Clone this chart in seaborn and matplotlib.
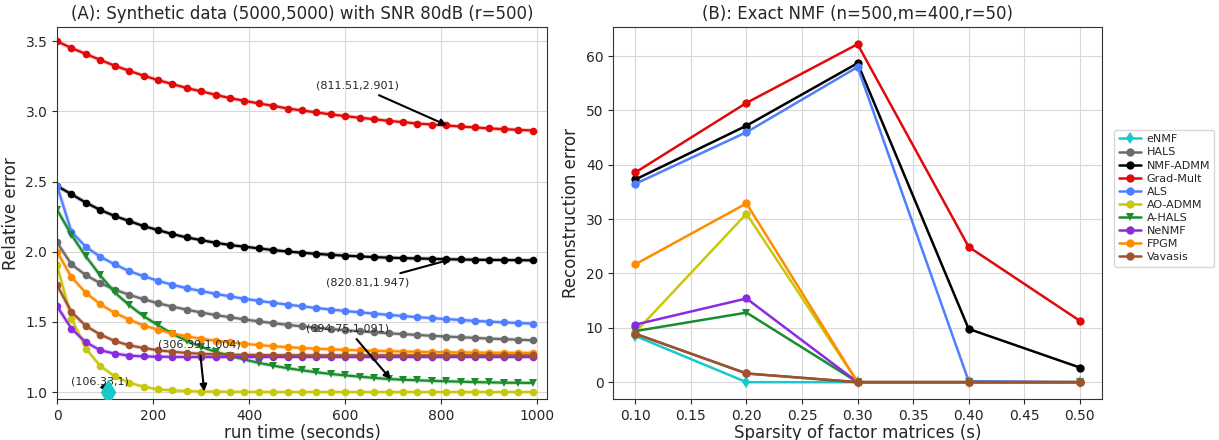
import numpy as np
import pandas as pd
import matplotlib
matplotlib.use("Agg")
import matplotlib.pyplot as plt
import seaborn as sns

# ---- panel A data: relative error vs run time ----
run_time = [0, 30, 60, 90, 120, 150, 180, 210, 240, 270, 300, 330, 360, 390, 420, 450, 480,
            510, 540, 570, 600, 630, 660, 690, 720, 750, 780, 810, 840, 870, 900, 930, 960, 990]

err_hals = [2.067, 1.910, 1.833, 1.776, 1.731, 1.693, 1.662, 1.633, 1.609, 1.587, 1.567, 1.549,
            1.533, 1.518, 1.504, 1.491, 1.479, 1.468, 1.458, 1.449, 1.441, 1.433, 1.426, 1.419,
            1.413, 1.407, 1.401, 1.396, 1.391, 1.386, 1.381, 1.377, 1.373, 1.369]
err_admm = [2.469, 2.410, 2.350, 2.298, 2.255, 2.219, 2.183, 2.155, 2.126, 2.102, 2.083, 2.064,
            2.048, 2.036, 2.024, 2.012, 2.002, 1.993, 1.985, 1.978, 1.972, 1.967, 1.962, 1.958,
            1.955, 1.952, 1.950, 1.947, 1.945, 1.943, 1.942, 1.941, 1.940, 1.939]
err_gradmult = [3.500, 3.452, 3.410, 3.367, 3.326, 3.290, 3.255, 3.224, 3.195, 3.167, 3.143, 3.119,
                3.095, 3.076, 3.057, 3.040, 3.021, 3.007, 2.993, 2.979, 2.967, 2.955, 2.945, 2.933,
                2.924, 2.914, 2.907, 2.900, 2.893, 2.886, 2.879, 2.874, 2.869, 2.864]
err_als = [2.470, 2.142, 2.035, 1.964, 1.910, 1.862, 1.826, 1.793, 1.765, 1.740, 1.720, 1.700,
           1.682, 1.665, 1.650, 1.636, 1.623, 1.611, 1.599, 1.588, 1.578, 1.568, 1.559, 1.550,
           1.542, 1.534, 1.527, 1.520, 1.514, 1.508, 1.502, 1.497, 1.492, 1.488]
err_aoadmm = [1.905, 1.524, 1.310, 1.186, 1.112, 1.067, 1.038, 1.019, 1.012, 1.007, 1.004, 1.003,
              1.002, 1.001, 1.001, 1.000, 1.000, 1.000, 1.000, 1.000, 1.000, 1.000, 1.000, 1.000,
              1.000, 1.000, 1.000, 1.000, 1.000, 1.000, 1.000, 1.000, 1.000, 1.000]
err_ahals = [2.300, 2.120, 1.967, 1.831, 1.710, 1.620, 1.541, 1.477, 1.415, 1.365, 1.322, 1.287,
             1.257, 1.232, 1.208, 1.188, 1.170, 1.155, 1.141, 1.129, 1.119, 1.110, 1.101, 1.093,
             1.088, 1.084, 1.080, 1.077, 1.074, 1.071, 1.069, 1.067, 1.066, 1.065]
err_nenmf = [1.612, 1.452, 1.355, 1.298, 1.274, 1.260, 1.254, 1.252, 1.251, 1.250, 1.250, 1.250,
             1.250, 1.250, 1.250, 1.250, 1.250, 1.250, 1.250, 1.250, 1.250, 1.250, 1.250, 1.250,
             1.250, 1.250, 1.250, 1.250, 1.250, 1.250, 1.250, 1.250, 1.250, 1.250]
err_fpgm = [2.000, 1.819, 1.707, 1.626, 1.564, 1.517, 1.474, 1.445, 1.418, 1.397, 1.380, 1.366,
            1.354, 1.344, 1.335, 1.327, 1.320, 1.314, 1.309, 1.305, 1.301, 1.297, 1.294, 1.291,
            1.289, 1.287, 1.285, 1.284, 1.283, 1.282, 1.281, 1.280, 1.280, 1.279]
err_vavasis = [1.762, 1.571, 1.471, 1.410, 1.364, 1.333, 1.314, 1.298, 1.287, 1.279, 1.273, 1.269,
               1.267, 1.265, 1.264, 1.263, 1.263, 1.262, 1.262, 1.262, 1.262, 1.262, 1.262, 1.262,
               1.262, 1.262, 1.262, 1.262, 1.262, 1.262, 1.262, 1.262, 1.262, 1.262]

enmf_time = [106.33]
enmf_err = [1.0]

# annotated points in panel A
annot_x = [811.51, 820.81, 694.75, 306.39, 106.33]
annot_y = [2.901, 1.947, 1.091, 1.004, 1]
annot_text_x = [626, 646, 605, 296, 90]
annot_text_y = [3.183, 1.783, 1.452, 1.338, 1.076]

# ---- panel B data: reconstruction error vs sparsity ----
sparsity = [0.1, 0.2, 0.3, 0.4, 0.5]
rec_enmf = [8.5, 0, 0, 0, 0]
rec_hals = [8.9, 1.6, 0, 0, 0]
rec_admm = [37.3, 47.2, 58.7, 9.8, 2.7]
rec_gradmult = [38.6, 51.4, 62.2, 24.9, 11.3]
rec_als = [36.5, 46.0, 58.0, 0.2, 0]
rec_aoadmm = [9.2, 31.0, 0, 0, 0]
rec_ahals = [9.4, 12.8, 0, 0, 0]
rec_nenmf = [10.6, 15.4, 0, 0, 0]
rec_fpgm = [21.7, 32.9, 0, 0, 0]
rec_vavasis = [8.9, 1.6, 0, 0, 0]

methods = ["eNMF", "HALS", "NMF-ADMM", "Grad-Mult", "ALS", "AO-ADMM", "A-HALS", "NeNMF", "FPGM", "Vavasis"]
colors = {"eNMF": "#17c9c9", "HALS": "#6b6b6b", "NMF-ADMM": "#000000", "Grad-Mult": "#e00a0a",
          "ALS": "#4f7fff", "AO-ADMM": "#c8c80a", "A-HALS": "#1a8c2e", "NeNMF": "#8a2be2",
          "FPGM": "#ff8c00", "Vavasis": "#a0522d"}
markers = {m: "o" for m in methods}
markers["eNMF"] = "d"
markers["A-HALS"] = "v"

curves_a = {"HALS": err_hals, "NMF-ADMM": err_admm, "Grad-Mult": err_gradmult, "ALS": err_als,
            "AO-ADMM": err_aoadmm, "A-HALS": err_ahals, "NeNMF": err_nenmf, "FPGM": err_fpgm,
            "Vavasis": err_vavasis}
curves_b = {"eNMF": rec_enmf, "HALS": rec_hals, "NMF-ADMM": rec_admm, "Grad-Mult": rec_gradmult,
            "ALS": rec_als, "AO-ADMM": rec_aoadmm, "A-HALS": rec_ahals, "NeNMF": rec_nenmf,
            "FPGM": rec_fpgm, "Vavasis": rec_vavasis}

df_a = pd.concat([pd.DataFrame({"time": run_time, "err": v, "method": k}) for k, v in curves_a.items()])
df_b = pd.concat([pd.DataFrame({"s": sparsity, "err": v, "method": k}) for k, v in curves_b.items()])

sns.set_style("ticks", {"axes.grid": True, "grid.color": "#d8d8d8", "axes.edgecolor": "#333333"})
plt.rcParams["font.family"] = ["DejaVu Sans"]

fig = plt.figure(figsize=(12.19, 4.40), dpi=100)
ax1 = fig.add_axes([0.0468, 0.093, 0.402, 0.845])
ax2 = fig.add_axes([0.503, 0.093, 0.401, 0.845])

order_a = [m for m in methods if m != "eNMF"]

# panel A: faint wide halo, then the line with markers
sns.lineplot(data=df_a, x="time", y="err", hue="method", hue_order=order_a,
             palette=colors, lw=3.0, alpha=0.25, legend=False, ax=ax1)
sns.lineplot(data=df_a, x="time", y="err", hue="method", style="method", hue_order=order_a,
             style_order=order_a, palette=colors, markers=markers, dashes=False, lw=1.6,
             markersize=5.5, markeredgewidth=0, legend=False, ax=ax1)
ax1.plot(enmf_time, enmf_err, marker="d", markersize=12, color=colors["eNMF"], ls="none",
         zorder=5)

for x, y, tx, ty in zip(annot_x, annot_y, annot_text_x, annot_text_y):
    ax1.annotate(f"({x},{y})", xy=(x, y), xytext=(tx, ty), ha="center", va="center", fontsize=8,
                 arrowprops=dict(arrowstyle="-|>", color="black", lw=1.5, mutation_scale=10,
                                 shrinkA=2, shrinkB=0))

ax1.set_xlim(0, 1020)
ax1.set_ylim(0.95, 3.6)
ax1.set_xticks([0, 200, 400, 600, 800, 1000])
ax1.set_yticks([1.0, 1.5, 2.0, 2.5, 3.0, 3.5])
ax1.set_title("(A): Synthetic data (5000,5000) with SNR 80dB (r=500)", fontsize=12)
ax1.set_xlabel("run time (seconds)", fontsize=12, labelpad=1)
ax1.set_ylabel("Relative error", fontsize=12)

# panel B
sns.lineplot(data=df_b, x="s", y="err", hue="method", style="method", hue_order=methods,
             style_order=methods, palette=colors, markers=markers, dashes=False, lw=1.8,
             markersize=6, markeredgewidth=0, ax=ax2)
ax2.set_xticks([0.1, 0.15, 0.2, 0.25, 0.3, 0.35, 0.4, 0.45, 0.5])
ax2.set_xticklabels([f"{v:.2f}" for v in [0.1, 0.15, 0.2, 0.25, 0.3, 0.35, 0.4, 0.45, 0.5]])
ax2.set_yticks([0, 10, 20, 30, 40, 50, 60])
ax2.set_title("(B): Exact NMF (n=500,m=400,r=50)", fontsize=12)
ax2.set_xlabel("Sparsity of factor matrices (s)", fontsize=12, labelpad=1)
ax2.set_ylabel("Reconstruction error", fontsize=12)
ax2.legend(loc="center left", bbox_to_anchor=(1.025, 0.54), fontsize=8, title=None,
           frameon=True, handlelength=2.0, handletextpad=0.5, labelspacing=0.28,
           borderaxespad=0.0)

for ax in (ax1, ax2):
    ax.tick_params(labelsize=10)
    for sp in ax.spines.values():
        sp.set_visible(True)

fig.savefig("out.png", dpi=100)
